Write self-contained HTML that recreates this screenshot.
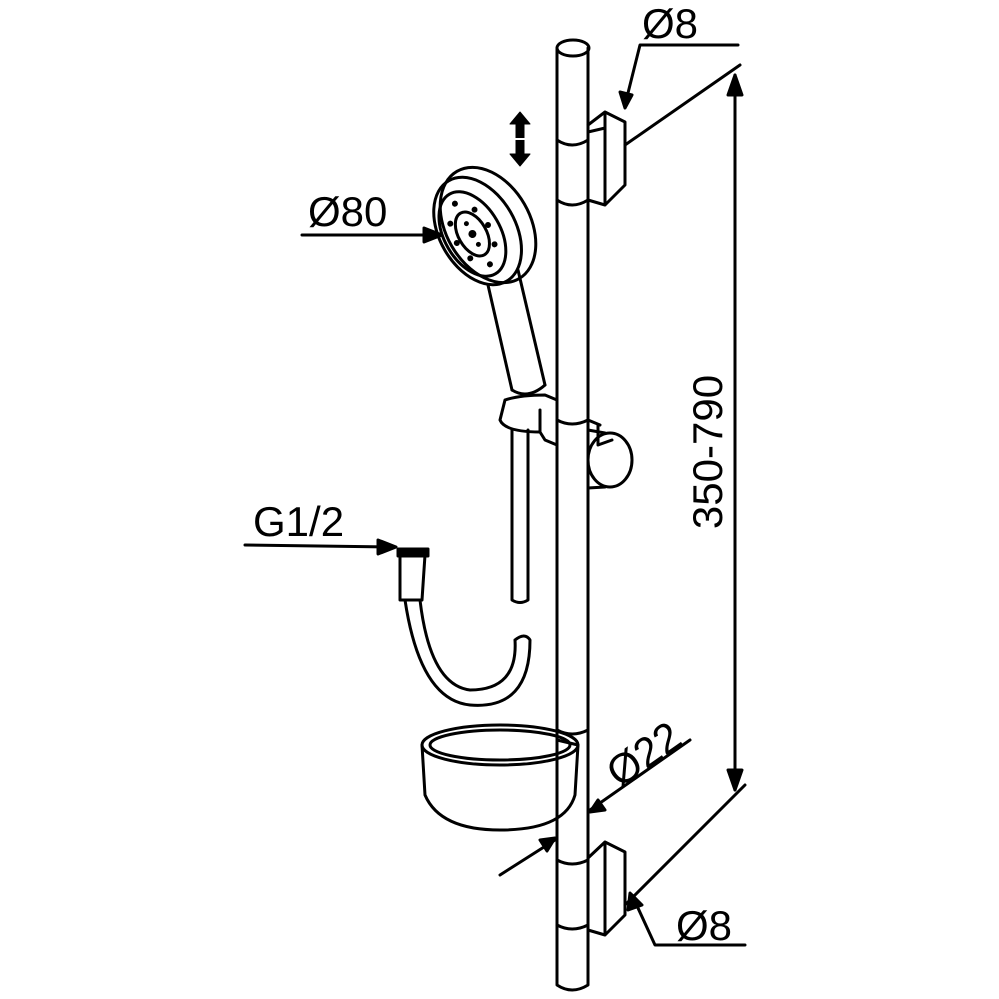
<!DOCTYPE html>
<html><head><meta charset="utf-8"><style>html,body{margin:0;padding:0;background:#fff}svg{display:block}</style></head>
<body>
<svg width="999" height="999" viewBox="0 0 999 999" xmlns="http://www.w3.org/2000/svg" fill="none" stroke="#000" stroke-width="3" stroke-linejoin="round" stroke-linecap="round">
<defs><marker id="ar" markerWidth="10" markerHeight="10" refX="9" refY="5" orient="auto" markerUnits="userSpaceOnUse"><path d="M0,0 L10,5 L0,10 z" fill="#000" stroke="none" transform="scale(1.6) translate(-4,-2)"/></marker></defs>
<g font-family="Liberation Sans, sans-serif" fill="#000" stroke="none" font-size="42">
<text x="642" y="38">Ø8</text>
<text x="308" y="226">Ø80</text>
<text x="253" y="536">G1/2</text>
<text x="676" y="940">Ø8</text>
<text transform="translate(722,452) rotate(-90)" text-anchor="middle">350-790</text>
<text transform="translate(652,766) rotate(-35)" text-anchor="middle">Ø22</text>
</g>
<!-- rail -->
<ellipse cx="573" cy="48" rx="16" ry="8"/>
<path d="M557,48 L557,985 Q572,995 588,985 L588,48"/>
<path d="M557,200 Q572,210 588,200 M557,140 Q572,150 588,140 M557,420 Q572,428 588,420 M557,730 Q572,738 588,730 M557,860 Q572,868 588,860 M557,925 Q572,933 588,925"/>
<!-- top bracket -->
<path d="M588,125 L605,112 L625,122 L625,185 L605,205 L588,200 M605,112 L605,205 M588,132 L605,128"/>
<!-- bottom bracket -->
<path d="M588,858 L605,842 L625,852 L625,915 L605,935 L588,930 M605,842 L605,935"/>
<!-- dimension lines -->
<path d="M735,75 L735,790" />
<path d="M728,95 L735,75 L742,95 Z M728,770 L735,790 L742,770 Z" fill="#000"/>
<path d="M625,145 L740,65 M625,905 L745,785"/>
<path d="M738,45 L640,45 L625,105"/>
<path d="M620,92 L625,108 L632,95 Z" fill="#000"/>
<path d="M745,945 L655,945 L632,895"/>
<path d="M628,910 L630,893 L642,905 Z" fill="#000"/>
<path d="M500,875 L555,840 M590,810 L690,740"/>
<path d="M540,840 L555,838 L547,851 Z M605,810 L590,812 L598,800 Z" fill="#000"/>
<!-- Ø80 leader -->
<path d="M302,235 L440,235"/>
<path d="M424,228 L442,235 L424,242 Z" fill="#000"/>
<!-- G1/2 leader -->
<path d="M245,545 L395,547"/>
<path d="M378,540 L396,547 L378,554 Z" fill="#000"/>
<!-- double arrow -->
<path d="M520,112 L510,124 L516,124 L516,154 L510,154 L520,166 L530,154 L524,154 L524,124 L530,124 Z" fill="#000" stroke-width="1"/>
<path d="M512,139 L528,139" stroke="#fff" stroke-width="2"/>
<!-- shower head -->
<g transform="translate(488,225) rotate(-30)">
<ellipse cx="0" cy="0" rx="42" ry="62"/>
<ellipse cx="-12" cy="0" rx="38" ry="58"/>
<ellipse cx="-18" cy="0" rx="28" ry="46"/>
<ellipse cx="-18" cy="0" rx="14" ry="24"/>
<g fill="#000" stroke="none">
<circle cx="-18" cy="-35" r="3"/><circle cx="-18" cy="35" r="3"/><circle cx="-32" cy="-20" r="3"/><circle cx="-32" cy="20" r="3"/><circle cx="-4" cy="-20" r="3"/><circle cx="-4" cy="20" r="3"/><circle cx="-36" cy="0" r="3"/><circle cx="0" cy="0" r="3"/><circle cx="-18" cy="0" r="4"/><circle cx="-18" cy="-12" r="2.5"/><circle cx="-18" cy="12" r="2.5"/>
</g>
</g>
<!-- handle -->
<path d="M488,285 L512,390 M518,270 L545,385"/>
<path d="M512,390 Q528,400 545,385"/>
<!-- slider -->
<path d="M505,400 L500,420 Q505,432 540,432 L545,440 L557,445 M505,400 Q520,395 545,395 L557,400"/>
<path d="M540,410 L540,432 M588,420 L600,425"/>
<ellipse cx="610" cy="460" rx="22" ry="27"/>
<path d="M588,430 L605,433 M588,488 L605,487"/>
<path d="M598,425 L598,445 L612,440"/>
<!-- hose upper -->
<path d="M512,430 L512,600 Q520,605 528,600 L528,430"/>
<!-- hose lower -->
<path d="M515,640 Q525,632 530,640 Q530,710 470,705 Q420,700 405,600 M515,640 Q518,690 470,690 Q430,685 420,600"/>
<path d="M400,555 L400,600 L422,600 L425,555 Z M398,552 L427,552"/>
<path d="M398,549 L428,549 L428,556 L398,556 Z" fill="#000"/>
<!-- soap dish -->
<ellipse cx="500" cy="745" rx="78" ry="20"/>
<ellipse cx="500" cy="745" rx="70" ry="15"/>
<path d="M422,745 L425,795 Q440,830 500,830 Q565,830 575,795 L578,745"/>
<path d="M578,745 L557,740"/>
</svg>
</body></html>
